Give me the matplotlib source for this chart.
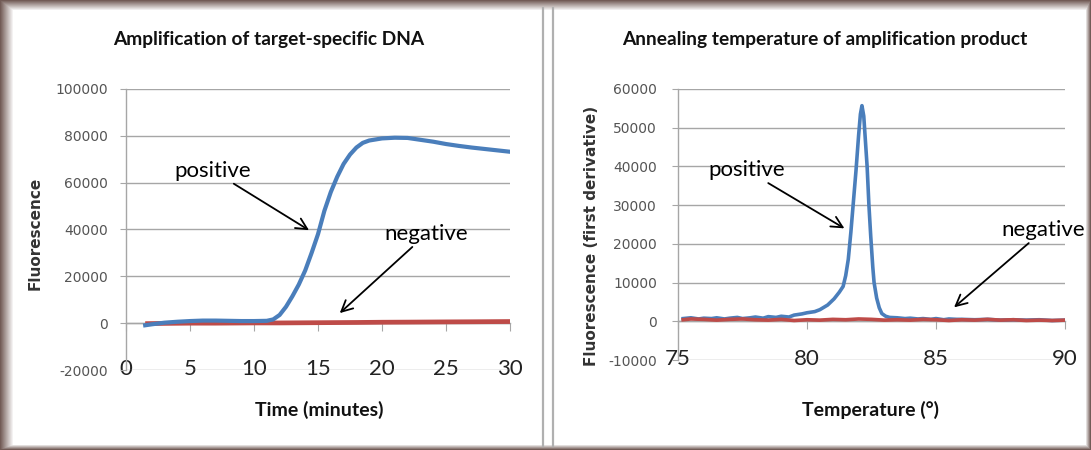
import numpy as np
import matplotlib
matplotlib.use("Agg")
import matplotlib.pyplot as plt

plt.rcParams["axes.unicode_minus"] = False

# ---------------- data ----------------
time_min = [1.5, 2, 3, 4, 5, 6, 7, 8, 9, 10, 11, 11.5, 12, 12.5, 13, 13.5, 14, 14.5,
            15, 15.5, 16, 16.5, 17, 17.5, 18, 18.5, 19, 20, 21, 22, 23, 24, 25, 26,
            27, 28, 29, 30]
amp_positive = [-900, -500, 200, 600, 900, 1100, 1100, 1000, 900, 900, 1000, 1600, 3500,
                7000, 11500, 16500, 22500, 30000, 38000, 48000, 56000, 62500, 68000,
                72000, 75000, 77000, 78000, 78900, 79200, 79100, 78300, 77500, 76500,
                75700, 75000, 74400, 73800, 73200]
time_neg = [1.5, 3, 5, 7, 10, 12, 15, 18, 20, 22, 25, 27, 30]
amp_negative = [-200, -100, 0, 0, 100, 100, 200, 300, 400, 450, 550, 600, 700]

temp_pos = [75.2, 75.5, 75.8, 76.0, 76.3, 76.5, 76.8, 77.0, 77.3, 77.5, 77.8, 78.0,
            78.3, 78.5, 78.8, 79.0, 79.3, 79.5, 79.8, 80.0, 80.3, 80.5, 80.8, 81.05,
            81.25, 81.4, 81.5, 81.6, 81.7, 81.8, 81.9, 82.0, 82.07, 82.13, 82.2, 82.27,
            82.33, 82.4, 82.47, 82.55, 82.6, 82.7, 82.8, 82.9, 83.05, 83.2, 83.5, 83.8,
            84.0, 84.3, 84.5, 84.8, 85.0, 85.3, 85.5, 85.8, 86.0, 86.5, 87.0, 87.5, 88.0,
            88.5, 89.0, 89.5, 90.0]
deriv_positive = [700, 900, 600, 800, 700, 900, 600, 800, 1000, 700, 900, 1100, 800,
                  1200, 1000, 1300, 1100, 1600, 1900, 2200, 2500, 3000, 4200, 5800,
                  7500, 9000, 11800, 16000, 23000, 31000, 39000, 48000, 53500, 55700,
                  53000, 46000, 40000, 30000, 22000, 14000, 10000, 6000, 3500, 2000,
                  1300, 1000, 900, 700, 800, 600, 700, 500, 700, 400, 600, 500, 500,
                  400, 500, 300, 400, 300, 400, 200, 300]
temp_neg = [75.2, 75.5, 76.0, 76.5, 77.0, 77.5, 78.0, 78.5, 79.0, 79.5, 80.0, 80.5,
            81.0, 81.5, 82.0, 82.5, 83.0, 83.5, 84.0, 84.5, 85.0, 85.5, 86.0, 86.5,
            87.0, 87.5, 88.0, 88.5, 89.0, 89.5, 90.0]
deriv_negative = [400, 600, 500, 300, 500, 600, 400, 300, 500, 200, 400, 300, 500, 400,
                  600, 500, 300, 400, 300, 500, 400, 200, 400, 300, 500, 300, 400, 200,
                  300, 200, 300]

left_xticks = [0, 5, 10, 15, 20, 25, 30]
left_yticks = [-20000, 0, 20000, 40000, 60000, 80000, 100000]
right_xticks = [75, 80, 85, 90]
right_yticks = [-10000, 0, 10000, 20000, 30000, 40000, 50000, 60000]

titles = ["Amplification of target-specific DNA", "Annealing temperature of amplification product"]
xlabels = ["Time (minutes)", "Temperature (°)"]
ylabels = ["Fluorescence", "Fluorescence (first derivative)"]

# ---------------- style ----------------
BLUE = "#4a7ebb"
RED = "#be4b48"
GRID = "#a6a6a6"
CAL = ["Lato", "DejaVu Sans"]
W, H = 1091, 450

fig = plt.figure(figsize=(W / 100, H / 100), dpi=100)

# background with brownish frame
bg = fig.add_axes([0, 0, 1, 1], zorder=-10)
img = np.ones((H, W, 3))
brown = np.array([0.45, 0.36, 0.34])
yy, xx = np.mgrid[0:H, 0:W]
def fade(d, width):
    return np.clip(1 - d / width, 0, 1)
a = np.maximum.reduce([fade(xx, 13.0), fade(yy, 10.0), fade(W - 1 - xx, 5.0), fade(H - 1 - yy, 5.0)])
img = img * (1 - a[..., None]) + brown * a[..., None]
bg.imshow(img, extent=[0, W, H, 0], aspect="auto")
bg.set_xlim(0, W)
bg.set_ylim(H, 0)
bg.axis("off")
for xl in (543, 553):
    bg.plot([xl, xl], [8, H - 4], color="#b0b0b0", lw=1.6)


def setup(ax, xlim, ylim, xticks, yticks, ypad):
    ax.set_xlim(*xlim)
    ax.set_ylim(*ylim)
    ax.set_facecolor("none")
    for s in ("top", "right"):
        ax.spines[s].set_visible(False)
    ax.spines["left"].set_color(GRID)
    ax.spines["left"].set_linewidth(1.0)
    ax.spines["bottom"].set_position(("data", 0))
    ax.spines["bottom"].set_color(GRID)
    ax.spines["bottom"].set_linewidth(1.0)
    ax.set_yticks(yticks)
    ax.set_xticks(xticks)
    ax.yaxis.grid(True, color=GRID, lw=1.0)
    ax.set_axisbelow(True)
    ax.tick_params(axis="y", length=4, color=GRID, pad=ypad, labelsize=10, labelcolor="#555555")
    ax.tick_params(axis="x", direction="out", length=6, color=GRID, labelbottom=False)
    sec = ax.secondary_xaxis("bottom")
    sec.set_xticks(xticks)
    sec.spines["bottom"].set_visible(False)
    sec.tick_params(length=0, pad=-8, labelsize=16, labelcolor="#222222")
    for t in sec.get_xticklabels():
        t.set_fontfamily(CAL)


# left chart
axL = fig.add_axes([126 / W, 1 - 370 / H, 384 / W, 281 / H])
setup(axL, (0, 30), (-20000, 100000), left_xticks, left_yticks, 9)
axL.plot(time_neg, amp_negative, color=RED, lw=3.4, solid_capstyle="butt", zorder=3)
axL.plot(time_min, amp_positive, color=BLUE, lw=3.0, zorder=4)
axL.annotate("positive", xy=(14.3, 39700), xytext=(9.8, 65000),
             fontsize=16, family=CAL, ha="right", va="center",
             arrowprops=dict(arrowstyle="->", color="black", lw=1.3, shrinkA=0, shrinkB=0,
                             mutation_scale=20))
axL.annotate("negative", xy=(16.7, 4300), xytext=(20.2, 38000),
             fontsize=16, family=CAL, ha="left", va="center",
             arrowprops=dict(arrowstyle="->", color="black", lw=1.3, shrinkA=0, shrinkB=0,
                             mutation_scale=20))

# right chart
axR = fig.add_axes([678 / W, 1 - 360 / H, 387 / W, 271 / H])
setup(axR, (75, 90), (-10000, 60000), right_xticks, right_yticks, 11)
axR.plot(temp_pos, deriv_positive, color=BLUE, lw=2.6, zorder=3)
axR.plot(temp_neg, deriv_negative, color=RED, lw=2.6, zorder=4)
axR.annotate("positive", xy=(81.45, 24000), xytext=(79.15, 39000),
             fontsize=16, family=CAL, ha="right", va="center",
             arrowprops=dict(arrowstyle="->", color="black", lw=1.3, shrinkA=0, shrinkB=0,
                             mutation_scale=20))
axR.annotate("negative", xy=(85.7, 3600), xytext=(87.55, 23500),
             fontsize=16, family=CAL, ha="left", va="center", annotation_clip=False,
             arrowprops=dict(arrowstyle="->", color="black", lw=1.3, shrinkA=0, shrinkB=0,
                             mutation_scale=20))

# titles and labels
fig.text(269 / W, 1 - 40 / H, titles[0], ha="center", va="center", fontsize=13.8,
         fontweight="bold", family=CAL, color="#111111")
fig.text(825 / W, 1 - 40 / H, titles[1], ha="center", va="center", fontsize=13.8,
         fontweight="bold", family=CAL, color="#111111")
fig.text(319 / W, 1 - 410 / H, xlabels[0], ha="center", va="center", fontsize=14,
         fontweight="bold", family=CAL, color="#111111")
fig.text(871 / W, 1 - 410 / H, xlabels[1], ha="center", va="center", fontsize=14,
         fontweight="bold", family=CAL, color="#111111")
fig.text(35 / W, 1 - 233 / H, ylabels[0], ha="center", va="center", rotation=90,
         fontsize=11, fontweight="bold", color="#333333")
fig.text(591 / W, 1 - 236 / H, ylabels[1], ha="center", va="center", rotation=90,
         fontsize=11, fontweight="bold", color="#333333")

fig.savefig("out.png", dpi=100)
